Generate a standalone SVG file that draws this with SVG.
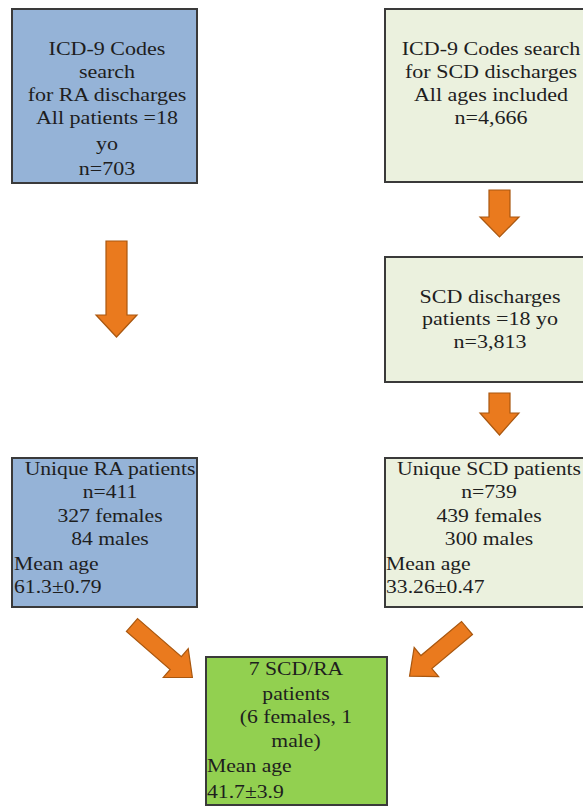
<svg xmlns="http://www.w3.org/2000/svg" width="583" height="806" viewBox="0 0 583 806">
<style>
  .box { stroke: #3a3a3a; stroke-width: 2; }
  .blue { fill: #95b3d7; }
  .pale { fill: #ebf1de; }
  .green { fill: #92d050; }
  text { font-family: 'Liberation Serif', 'DejaVu Serif', serif; font-size: 19px; fill: #1e1e1e; }
  .c { text-anchor: middle; }
  .l { text-anchor: start; }
  .arrow { fill: #ea7a1e; stroke: #a9570f; stroke-width: 1.2; stroke-linejoin: miter; }
</style>
<rect width="583" height="806" fill="#ffffff"/>

<g id="connectors">
  <polygon class="arrow" points="106,241 127,241 127,315 137,315 116.5,337 96,315 106,315"/>
  <polygon class="arrow" points="489,190 510,190 510,217 519,217 499.5,237 480,217 489,217"/>
  <polygon class="arrow" points="489,393 510,393 510,413 519,413 499.5,435 480,413 489,413"/>
  <polygon class="arrow" transform="translate(132,625) rotate(41)" points="0,-8.5 58,-8.5 58,-19 80,0 58,19 58,8.5 0,8.5"/>
  <polygon class="arrow" transform="translate(467,628) rotate(140)" points="0,-8.5 53,-8.5 53,-19 75,0 53,19 53,8.5 0,8.5"/>
</g>

<g id="ra-search">
  <rect class="box blue" x="12" y="9" width="185" height="174"/>
  <g transform="translate(107,0) scale(1.16,1)">
    <text class="c" x="0" y="55">ICD-9 Codes</text>
    <text class="c" x="0" y="78">search</text>
    <text class="c" x="0" y="101">for RA discharges</text>
    <text class="c" x="0" y="124">All patients =18</text>
    <text class="c" x="0" y="150">yo</text>
    <text class="c" x="0" y="175">n=703</text>
  </g>
</g>

<g id="scd-search">
  <rect class="box pale" x="385" y="9" width="210" height="173"/>
  <g transform="translate(491,0) scale(1.16,1)">
    <text class="c" x="0" y="55">ICD-9 Codes search</text>
    <text class="c" x="0" y="78">for SCD discharges</text>
    <text class="c" x="0" y="101">All ages included</text>
    <text class="c" x="0" y="124">n=4,666</text>
  </g>
</g>

<g id="scd-adults">
  <rect class="box pale" x="385" y="257" width="210" height="125"/>
  <g transform="translate(490,0) scale(1.16,1)">
    <text class="c" x="0" y="303">SCD discharges</text>
    <text class="c" x="0" y="325">patients =18 yo</text>
    <text class="c" x="0" y="348">n=3,813</text>
  </g>
</g>

<g id="unique-ra">
  <rect class="box blue" x="12" y="458" width="185" height="149"/>
  <g transform="translate(110,0) scale(1.14,1)">
    <text class="c" x="0" y="475">Unique RA patients</text>
    <text class="c" x="0" y="498">n=411</text>
    <text class="c" x="0" y="522">327 females</text>
    <text class="c" x="0" y="545">84 males</text>
  </g>
  <g transform="translate(14,0) scale(1.14,1)">
    <text class="l" x="0" y="570">Mean age</text>
    <text class="l" x="0" y="593">61.3±0.79</text>
  </g>
</g>

<g id="unique-scd">
  <rect class="box pale" x="385" y="458" width="210" height="149"/>
  <g transform="translate(489,0) scale(1.14,1)">
    <text class="c" x="0" y="475">Unique SCD patients</text>
    <text class="c" x="0" y="498">n=739</text>
    <text class="c" x="0" y="522">439 females</text>
    <text class="c" x="0" y="545">300 males</text>
  </g>
  <g transform="translate(386,0) scale(1.14,1)">
    <text class="l" x="0" y="570">Mean age</text>
    <text class="l" x="0" y="593">33.26±0.47</text>
  </g>
</g>

<g id="scd-ra">
  <rect class="box green" x="206" y="657" width="181" height="148"/>
  <g transform="translate(296,0) scale(1.14,1)">
    <text class="c" x="0" y="675">7 SCD/RA</text>
    <text class="c" x="0" y="700">patients</text>
    <text class="c" x="0" y="723">(6 females, 1</text>
    <text class="c" x="0" y="747">male)</text>
  </g>
  <g transform="translate(207,0) scale(1.14,1)">
    <text class="l" x="0" y="772">Mean age</text>
    <text class="l" x="0" y="798">41.7±3.9</text>
  </g>
</g>
</svg>
